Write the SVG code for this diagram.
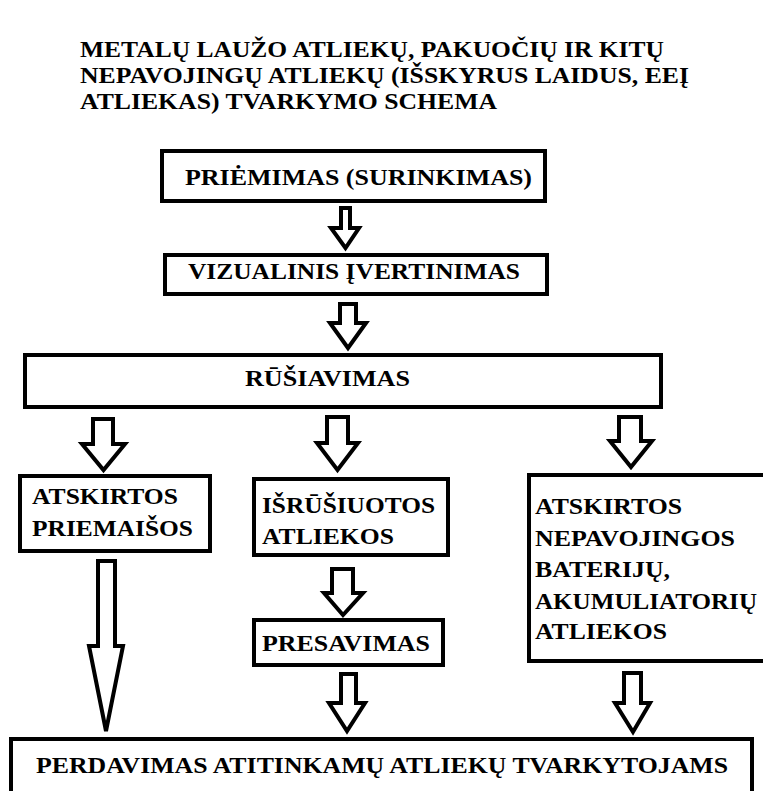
<svg xmlns="http://www.w3.org/2000/svg" width="763" height="791" viewBox="0 0 763 791" font-family="Liberation Serif, DejaVu Serif, Times New Roman, serif">
<style>
.box{fill:#fff;stroke:#000;stroke-width:4}
.arr{fill:#fff;stroke:#000;stroke-width:4;stroke-linejoin:miter;stroke-miterlimit:3}
.t{font-weight:bold;font-size:24px;fill:#000}
</style>
<rect width="763" height="791" fill="#fff"/>
<g id="title" class="t">
<text x="80" y="57" textLength="584" lengthAdjust="spacingAndGlyphs">METALŲ LAUŽO ATLIEKŲ, PAKUOČIŲ IR KITŲ</text>
<text x="80" y="83" textLength="609" lengthAdjust="spacingAndGlyphs">NEPAVOJINGŲ ATLIEKŲ (IŠSKYRUS LAIDUS, EEĮ</text>
<text x="80" y="109" textLength="417" lengthAdjust="spacingAndGlyphs">ATLIEKAS) TVARKYMO SCHEMA</text>
</g>
<g id="connectors">
<polygon class="arr" points="341,208 350,208 350,228 359,228 345.5,248 331,228 341,228"/>
<polygon class="arr" points="340,304 356,304 356,323 366,323 348,348 330,323 340,323"/>
<polygon class="arr" points="93,419 113,419 113,444 125,444 103.5,470 82,444 93,444"/>
<polygon class="arr" points="327,417 348,417 348,443 358,443 337.5,470 317,443 327,443"/>
<polygon class="arr" points="619,417 641,417 641,441 652,441 631,467 610,441 619,441"/>
<polygon class="arr" points="332,569 353,569 353,593 363,593 343,615 324,593 332,593"/>
<polygon class="arr" points="98,561 115,561 115,646 123,646 106,731 89,646 98,646"/>
<polygon class="arr" points="341,674 356,674 356,703 365,703 347,731 329,703 341,703"/>
<polygon class="arr" points="624,673 641,673 641,703 650,703 633,732 615,703 624,703"/>
</g>
<g id="n1" class="t">
<rect class="box" x="162" y="151" width="383" height="50"/>
<text x="185" y="185" textLength="347" lengthAdjust="spacingAndGlyphs">PRIĖMIMAS (SURINKIMAS)</text>
</g>
<g id="n2" class="t">
<rect class="box" x="165" y="255" width="382" height="39"/>
<text x="188" y="279" textLength="332" lengthAdjust="spacingAndGlyphs">VIZUALINIS ĮVERTINIMAS</text>
</g>
<g id="n3" class="t">
<rect class="box" x="25" y="355" width="636" height="52"/>
<text x="245" y="386" textLength="165" lengthAdjust="spacingAndGlyphs">RŪŠIAVIMAS</text>
</g>
<g id="n4" class="t">
<rect class="box" x="20" y="476" width="190" height="75"/>
<text x="32" y="504" textLength="146" lengthAdjust="spacingAndGlyphs">ATSKIRTOS</text>
<text x="32" y="536" textLength="161" lengthAdjust="spacingAndGlyphs">PRIEMAIŠOS</text>
</g>
<g id="n5" class="t">
<rect class="box" x="254" y="479" width="194" height="76"/>
<text x="262" y="513" textLength="173" lengthAdjust="spacingAndGlyphs">IŠRŪŠIUOTOS</text>
<text x="262" y="544" textLength="132" lengthAdjust="spacingAndGlyphs">ATLIEKOS</text>
</g>
<g id="n6" class="t">
<rect class="box" x="254" y="620" width="189" height="45"/>
<text x="262" y="651" textLength="168" lengthAdjust="spacingAndGlyphs">PRESAVIMAS</text>
</g>
<g id="n7" class="t">
<rect class="box" x="529" y="475" width="250" height="186"/>
<text x="535" y="514" textLength="147" lengthAdjust="spacingAndGlyphs">ATSKIRTOS</text>
<text x="535" y="546" textLength="200" lengthAdjust="spacingAndGlyphs">NEPAVOJINGOS</text>
<text x="535" y="577" textLength="135" lengthAdjust="spacingAndGlyphs">BATERIJŲ,</text>
<text x="535" y="609" textLength="222" lengthAdjust="spacingAndGlyphs">AKUMULIATORIŲ</text>
<text x="535" y="639" textLength="132" lengthAdjust="spacingAndGlyphs">ATLIEKOS</text>
</g>
<g id="n8" class="t">
<rect class="box" x="11" y="739" width="741" height="70"/>
<text x="36" y="773" textLength="692" lengthAdjust="spacingAndGlyphs">PERDAVIMAS ATITINKAMŲ ATLIEKŲ TVARKYTOJAMS</text>
</g>
</svg>
